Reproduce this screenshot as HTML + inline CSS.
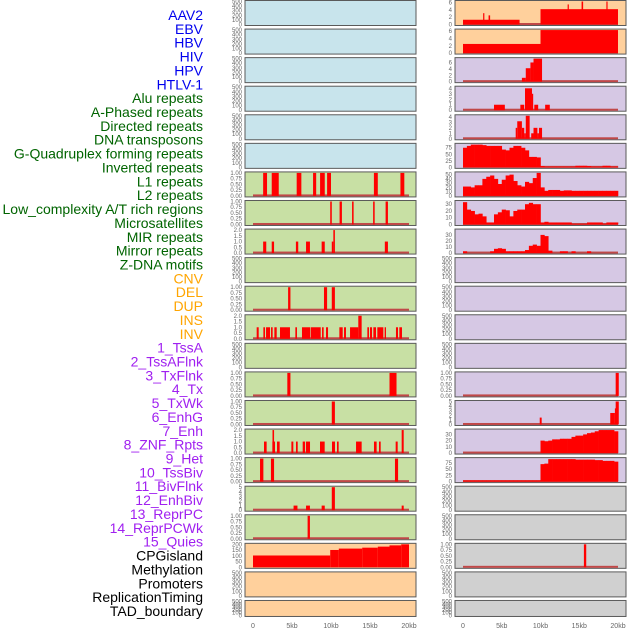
<!DOCTYPE html>
<html><head><meta charset="utf-8">
<style>
html,body{margin:0;padding:0;background:#fff;}
svg{display:block;font-family:"Liberation Sans",sans-serif;}
</style></head>
<body>
<svg id="chart" width="630" height="630" viewBox="0 0 630 630" xmlns="http://www.w3.org/2000/svg"></svg>
<script>
// ---------- DATA ----------
const featureLabels = ["AAV2","EBV","HBV","HIV","HPV","HTLV-1","Alu repeats","A-Phased repeats","Directed repeats","DNA transposons","G-Quadruplex forming repeats","Inverted repeats","L1 repeats","L2 repeats","Low_complexity A/T rich regions","Microsatellites","MIR repeats","Mirror repeats","Z-DNA motifs","CNV","DEL","DUP","INS","INV","1_TssA","2_TssAFlnk","3_TxFlnk","4_Tx","5_TxWk","6_EnhG","7_Enh","8_ZNF_Rpts","9_Het","10_TssBiv","11_BivFlnk","12_EnhBiv","13_ReprPC","14_ReprPCWk","15_Quies","CPGisland","Methylation","Promoters","ReplicationTiming","TAD_boundary"];
const labelColors = ["#0000ee","#0000ee","#0000ee","#0000ee","#0000ee","#0000ee","#006400","#006400","#006400","#006400","#006400","#006400","#006400","#006400","#006400","#006400","#006400","#006400","#006400","#ffa500","#ffa500","#ffa500","#ffa500","#ffa500","#a020f0","#a020f0","#a020f0","#a020f0","#a020f0","#a020f0","#a020f0","#a020f0","#a020f0","#a020f0","#a020f0","#a020f0","#a020f0","#a020f0","#a020f0","#000","#000","#000","#000","#000"];
const xTickValues = [0,5,10,15,20];
const xTickLabels = ["0","5kb","10kb","15kb","20kb"];
const ticksEmpty = [0,100,200,300,400,500];
const ticksBin = [0,0.25,0.5,0.75,1];
const ticksTwo = [0,0.5,1,1.5,2];
const ticksFive = [0,1,2,3,4,5];
const ticksFour = [0,1,2,3,4];
const ticksSix = [0,2,4,6];
const ticks75 = [0,25,50,75];
const ticks50 = [0,10,20,30,40,50];
const ticks30 = [0,10,20,30];
const ticks200 = [0,50,100,150,200];

// segments: [startKb, endKb, value]
const l1Segs = [[1.3,1.8,1],[2.4,3.3,1],[5.6,6.2,1],[7.7,8.1,1],[8.6,9.2,1],[9.5,10,1],[15.5,16,1],[18.9,19.4,1]];
const l2Segs = [[9.9,10.1,1],[11.1,11.4,1],[12.7,12.9,1],[15.4,15.6,1],[17.0,17.3,1]];
const lowCompSegs = [[1.3,1.7,1],[2.4,2.7,1],[5.5,5.8,1],[6.8,7.3,1],[8.8,9.2,1],[10.1,10.3,1],[10.3,10.5,2],[16.9,17.3,1]];
const mirSegs = [[4.5,4.8,1],[9.1,9.5,1],[10.1,10.5,1]];
const mirrorSegs = [[0.47,0.73,1],[1.33,1.54,1],[1.67,2.18,1],[2.31,2.52,1],[2.74,3.04,1],[3.46,4.74,1],[5.43,5.64,1],[6.28,7.31,1],[7.39,8.68,1],[8.85,9.06,1],[9.36,9.62,1],[11.07,11.5,1],[11.67,11.92,1],[12.44,13.5,1],[13.5,13.93,2],[14.66,14.87,1],[15,15.26,1],[15.43,15.77,1],[15.94,16.71,1],[16.88,17.05,1],[18.33,18.59,1],[18.76,19.1,1]];
const cnvSegs = [[4.4,4.8,1],[17.5,18.4,1]];
const delSegs = [[10.1,10.5,1]];
const dupSegs = [[1.41,1.75,1],[2.48,2.82,1],[2.5,2.7,2],[3.08,3.42,1],[4.92,5.17,1],[5.51,5.73,1],[6.37,6.67,1],[6.79,7.31,1],[8.59,9.19,1],[10.13,10.51,1],[10.77,10.98,1],[13.21,13.93,1],[15.51,15.85,1],[16.15,16.37,1],[18.29,18.55,1],[19.06,19.32,2]];
const insLeftSegs = [[0.9,1.33,1],[2.3,2.7,1],[18.2,18.6,1]];
const invLeftSegs = [[5.2,5.7,1],[6.8,7.3,1],[8.8,9.2,1],[10.1,10.5,5],[19.06,19.32,1]];
const tssaLeftSegs = [[7.0,7.3,1]];
const cpgLeftSegs = [[0,9.9,103],[9.9,11,151],[11,14,163],[14,16,171],[16,17.5,180],[17.5,19,191],[19,20,200]];
const insRightSegs = [[0,7.3,1.3],[2.6,2.75,3.1],[3.3,3.5,2.5],[10,20,4.2],[13.5,13.6,5.5],[15.3,15.5,6.3],[18.5,18.6,6.3]];
const invRightSegs = [[0,10,2.5],[10,20,6.3]];
const tssaRightSegs = [[7.6,8.1,1.2],[8.1,8.7,4.2],[8.7,9.1,6],[9.1,10.2,7.2]];
const tssaFlnkSegs = [[4.0,5.4,1],[7.4,7.9,1],[8.0,8.9,4],[8.9,9.0,3],[9.2,9.7,1],[10.6,11.2,1]];
const txFlnkSegs = [[6.8,7.0,2],[7.0,7.6,3.2],[7.6,7.9,2],[7.9,8.1,1],[8.1,8.6,4.2],[8.8,9.1,1],[9.1,9.6,2],[9.6,9.8,1],[9.8,10.2,2]];
// binned series, 0.5kb bins (40 values)
const txBins = [75,82,87,87,87,85,82,82,82,82,68,65,75,82,82,75,65,40,40,38,5,3,3,3,3,3,3,3,3,6,6,6,5,3,3,3,6,6,3,3];
const txWkBins = [22,22,20,25,25,40,45,48,40,28,38,48,50,35,25,22,33,30,42,54,20,12,14,14,14,12,13,13,12,12,12,12,12,12,12,12,12,12,12,12];
const enhGBins = [33,22,20,15,16,12,3,3,15,18,22,21,12,20,22,22,30,32,30,30,3,4,3,3,3,3,3,3,1,1,1,1,3,3,3,3,1,3,3,3];
const enhBins = [3,0,0,0,0,0,0,3,7,8,7,3,3,3,3,3,5,12,14,12,30,28,4,0,0,3,3,0,3,0,0,0,3,0,0,0,0,0,0,0];
const tssBivSegs = [[19.7,20.1,1]];
const bivFlnkSegs = [[9.9,10.15,1.5],[19.0,19.6,2.5],[19.6,19.7,3.5],[19.7,20.1,5]];
const enhBivBins = [0,0,0,0,0,0,0,0,0,0,0,0,0,0,0,0,0,0,0,0,20,19,20,22,22,23,23,23,26,28,28,30,32,33,35,37,37,37,37,35];
const reprPCBins = [5,5,5,5,5,5,5,5,5,5,5,5,5,5,5,5,5,5,5,5,70,72,90,90,90,90,90,90,90,88,88,88,88,88,86,86,83,83,83,80];
const methRightSegs = [[15.6,15.9,1]];

// ---------- LAYOUT ----------
const E = null;
// [labelIndex, bg, ticks, tickFormat, ymax, segs, bins]
const leftPanels = [
 [0,"#c8e4ec",ticksEmpty,0,500,E,E],[1,"#c8e4ec",ticksEmpty,0,500,E,E],[2,"#c8e4ec",ticksEmpty,0,500,E,E],
 [3,"#c8e4ec",ticksEmpty,0,500,E,E],[4,"#c8e4ec",ticksEmpty,0,500,E,E],[5,"#c8e4ec",ticksEmpty,0,500,E,E],
 [6,"#c8e0a4",ticksBin,2,1,l1Segs,E],[7,"#c8e0a4",ticksBin,2,1,l2Segs,E],[8,"#c8e0a4",ticksTwo,1,2,lowCompSegs,E],
 [9,"#c8e0a4",ticksEmpty,0,500,E,E],[10,"#c8e0a4",ticksBin,2,1,mirSegs,E],[11,"#c8e0a4",ticksTwo,1,2,mirrorSegs,E],
 [12,"#c8e0a4",ticksEmpty,0,500,E,E],[13,"#c8e0a4",ticksBin,2,1,cnvSegs,E],[14,"#c8e0a4",ticksBin,2,1,delSegs,E],
 [15,"#c8e0a4",ticksTwo,1,2,dupSegs,E],[16,"#c8e0a4",ticksBin,2,1,insLeftSegs,E],[17,"#c8e0a4",ticksFive,0,5,invLeftSegs,E],
 [18,"#c8e0a4",ticksBin,2,1,tssaLeftSegs,E],[19,"#ffd09c",ticks200,0,200,cpgLeftSegs,E,true],
 [20,"#ffd09c",ticksEmpty,0,500,E,E],[21,"#ffd09c",ticksEmpty,0,500,E,E]
];
const rightPanels = [
 [22,"#ffd09c",ticksSix,0,6.3,insRightSegs,E],[23,"#ffd09c",ticksSix,0,6.3,invRightSegs,E],
 [24,"#d6c8e4",ticksSix,0,7.2,tssaRightSegs,E],[25,"#d6c8e4",ticksFour,0,4.2,tssaFlnkSegs,E],
 [26,"#d6c8e4",ticksFour,0,4.2,txFlnkSegs,E],[27,"#d6c8e4",ticks75,0,88,E,txBins],
 [28,"#d6c8e4",ticks50,0,54,E,txWkBins],[29,"#d6c8e4",ticks30,0,34,E,enhGBins],
 [30,"#d6c8e4",ticks30,0,38,E,enhBins],[31,"#d6c8e4",ticksEmpty,0,500,E,E],
 [32,"#d6c8e4",ticksEmpty,0,500,E,E],[33,"#d6c8e4",ticksEmpty,0,500,E,E],
 [34,"#d6c8e4",ticksEmpty,0,500,E,E],[35,"#d6c8e4",ticksBin,2,1,tssBivSegs,E],
 [36,"#d6c8e4",ticksFive,0,5,bivFlnkSegs,E],[37,"#d6c8e4",ticks30,0,37,E,enhBivBins],
 [38,"#d6c8e4",ticks75,0,92,E,reprPCBins],[39,"#d0d0d0",ticksEmpty,0,500,E,E],
 [40,"#d0d0d0",ticksEmpty,0,500,E,E],[41,"#d0d0d0",ticksBin,2,1,methRightSegs,E],
 [42,"#d0d0d0",ticksEmpty,0,500,E,E],[43,"#d0d0d0",ticksEmpty,0,500,E,E]
];

const NS = "http://www.w3.org/2000/svg";
const svg = document.getElementById("chart");
function mk(tag, attrs, parent){
  const el = document.createElementNS(NS, tag);
  for (const k in attrs) el.setAttribute(k, attrs[k]);
  (parent||svg).appendChild(el);
  return el;
}

// labels
featureLabels.forEach((lab,i)=>{
  const t = mk("text",{x:203,y:(20+13.86*i).toFixed(1),"text-anchor":"end","font-size":"14",fill:labelColors[i]});
  
  
  t.textContent = lab;
});

function drawColumn(panels, px, pw, x0, kbw, colName){
  const xs = kb => x0 + kb*kbw;
  panels.forEach((p,i)=>{
    const [li,bg,ticks,fmt,ymax,segs,bins,noBase] = p;
    const top = 0.5 + 28.57*i;
    const h = (i===21) ? 16 : 25;
    const bot = top + h;
    const ys = v => bot - 1 - Math.min(v,ymax)/ymax*(h-2);
    const g = mk("g",{});
    
    
    const r = mk("rect",{x:px,y:top,width:pw,height:h,fill:bg,stroke:"#5a5a5a","stroke-width":"1"},g);
    
    
    ticks.forEach(tv=>{
      const t = mk("text",{x:px-3,y:(ys(tv)+2).toFixed(1),"text-anchor":"end","font-size":"6",fill:"#666"},g);
      
      
      t.textContent = fmt===2 ? tv.toFixed(2) : (fmt===1 ? tv.toFixed(1) : String(tv));
    });
    const hasData = segs || bins;
    if (hasData && !noBase){
      const b = mk("rect",{x:xs(0),y:bot-2.5,width:xs(20)-xs(0),height:2,fill:"#c04848"},g);
      
      
    }
    if (segs){
      segs.forEach(s=>{
        const y = ys(s[2]);
        const b = mk("rect",{x:xs(s[0]).toFixed(2),y:y.toFixed(2),width:Math.max(1.2,xs(s[1])-xs(s[0])).toFixed(2),height:(bot-1-y).toFixed(2),fill:"#ff0000"},g);
        
        
      });
    }
    if (bins){
      bins.forEach((v,k)=>{
        if (v<=0) return;
        const y = ys(v);
        const b = mk("rect",{x:xs(k*0.5).toFixed(2),y:y.toFixed(2),width:(xs(0.5)-xs(0)+0.3).toFixed(2),height:(bot-1-y).toFixed(2),fill:"#ff0000"},g);
        
        
      });
    }
  });
  xTickValues.forEach((v,k)=>{
    const t = mk("text",{x:xs(v),y:628,"text-anchor":"middle","font-size":"7",fill:"#666"});
    
    
    t.textContent = xTickLabels[k];
  });
}
drawColumn(leftPanels, 245, 171, 253, 7.8, "left");
drawColumn(rightPanels, 455, 171, 463, 7.75, "right");
</script>
</body></html>
